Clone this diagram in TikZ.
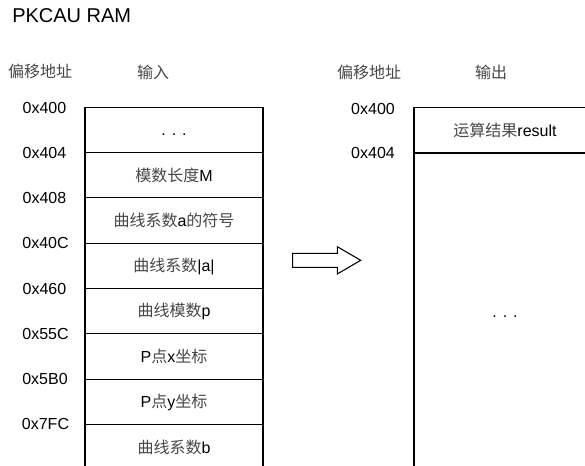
\documentclass[tikz,border=0pt]{standalone}
\usepackage{fontspec}
\setmainfont{Liberation Sans}
\newfontfamily\cjkfont{Noto Sans CJK SC}
\newcommand{\cjk}{\cjkfont\color{black!72}}
\usetikzlibrary{positioning}
\tikzset{
    % Memory cell
    cellnode/.style={
        draw=black,
        line width=0.8pt,
        minimum width=133.5pt,
        minimum height=34pt,
        inner sep=0pt,
        outer sep=0pt,
        align=center,
        font=\fontsize{12}{14}\selectfont
    },
    % Address label
    addrnode/.style={
        inner sep=0pt,
        font=\fontsize{12}{14}\selectfont
    },
    % Column header
    headnode/.style={
        inner sep=0pt,
        font=\cjk\fontsize{12}{14}\selectfont
    },
    % Hollow block arrow
    blockarrow/.style={
        draw=black,
        line width=0.8pt,
        fill=white
    }
}
\begin{document}
\begin{tikzpicture}[x=0.75pt, y=-0.75pt]
        \clip (0,0) rectangle (585,466);

        % Title
        \node[addrnode, anchor=west, font=\fontsize{15}{18}\selectfont] (title) at (12,16) {PKCAU RAM};

        % Headers
        \node[headnode] (offin) at (40,71) {偏移地址};
        \node[headnode] (hin) at (153,72) {输入};
        \node[headnode] (offout) at (369,72) {偏移地址};
        \node[headnode] (hout) at (491,72) {输出};

        % Input cells
        \node[cellnode, anchor=north] (in0) at (174,107.3) {\vphantom{0}. . .};
        \node[cellnode, below=0pt of in0] (in1) {{\cjk 模数长度}M};
        \node[cellnode, below=0pt of in1] (in2) {{\cjk 曲线系数}a{\cjk 的符号}};
        \node[cellnode, below=0pt of in2] (in3) {{\cjk 曲线系数}|a|};
        \node[cellnode, below=0pt of in3] (in4) {{\cjk 曲线模数}p};
        \node[cellnode, below=0pt of in4] (in5) {P{\cjk 点}x{\cjk 坐标}};
        \node[cellnode, below=0pt of in5] (in6) {P{\cjk 点}y{\cjk 坐标}};
        \node[cellnode, below=0pt of in6] (in7) {{\cjk 曲线系数}b};

        % Input addresses
        \node[addrnode] (ain0) at (44.5,108) {0x400};
        \node[addrnode] (ain1) at (44.5,152.6) {0x404};
        \node[addrnode] (ain2) at (44.5,197.9) {0x408};
        \node[addrnode] (ain3) at (45.5,243.2) {0x40C};
        \node[addrnode] (ain4) at (44.5,288.5) {0x460};
        \node[addrnode] (ain5) at (45.5,333.8) {0x55C};
        \node[addrnode] (ain6) at (45,379.1) {0x5B0};
        \node[addrnode] (ain7) at (45.5,424.4) {0x7FC};

        % Output cells
        \node[cellnode, anchor=north, minimum width=136.5pt] (out0) at (505,107.7) {{\cjk 运算结果}result};
        \node[cellnode, below=0pt of out0, minimum width=136.5pt, minimum height=237.75pt] (out1) {\vphantom{0}. . .};

        % Output addresses
        \node[addrnode] (aout0) at (373,108.5) {0x400};
        \node[addrnode] (aout1) at (373,152.7) {0x404};

        % Arrow
        \draw[blockarrow] (292.7,253.3) -- (337.3,253.3) -- (337.3,246.7) -- (360.7,260.3)
            -- (337.3,274) -- (337.3,267.3) -- (292.7,267.3) -- cycle;
    \end{tikzpicture}
\end{document}
